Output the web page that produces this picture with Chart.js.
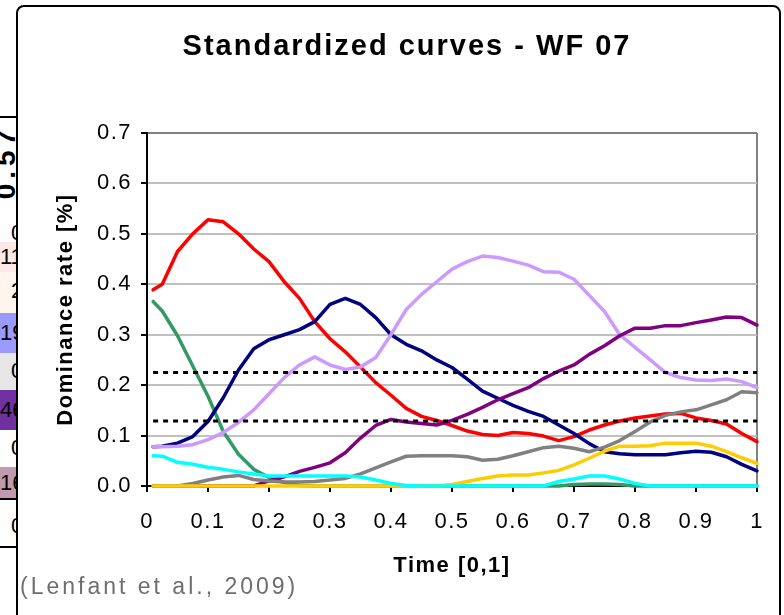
<!DOCTYPE html>
<html>
<head>
<meta charset="utf-8">
<script src="https://cdn.jsdelivr.net/npm/chart.js@4.4.1/dist/chart.umd.min.js"></script>
<style>
  html, body { margin: 0; padding: 0; background: #fff; width: 784px; height: 615px; overflow: hidden; }
  body { position: relative; font-family: "Liberation Sans", Arial, sans-serif; }
  #frame { position: absolute; left: 16px; top: 5px; width: 765px; height: 700px; border: 2px solid #000; border-radius: 8px; box-sizing: border-box; }
  #strip { position: absolute; left: 0; top: 0; width: 16px; height: 615px; overflow: hidden; font-size: 22px; color: #000; }
  #strip div { position: absolute; left: 0; width: 16px; white-space: nowrap; overflow: visible; }
  #strip .hl { height: 2px; background: #000; }
  #chart { position: absolute; left: 0; top: 0; }
  #cite { position: absolute; left: 20px; top: 573px; font-size: 23px; color: #6e6e6e; letter-spacing: 3px; white-space: nowrap; }
</style>
</head>
<body>
<div id="strip">
  <div class="hl" style="top:116px"></div>
  <div style="top:122px;height:82px;"><span style="position:absolute;left:-37px;top:26px;width:85px;text-align:center;transform:rotate(-90deg);font-weight:bold;font-size:28px;line-height:28px;letter-spacing:5px;">0.57</span></div>
  <div style="top:220px;height:24px;"><span style="position:absolute;left:11px;">0</span></div>
  <div style="top:242px;height:30px;background:#fde8e8;"><span style="position:absolute;left:0;top:2px;">11</span></div>
  <div style="top:272px;height:41px;background:#fef6ec;"><span style="position:absolute;left:11px;top:6px;">2</span></div>
  <div style="top:313px;height:40px;background:#9a9aff;"><span style="position:absolute;left:0;top:7px;">19</span></div>
  <div style="top:353px;height:37px;background:#e6e6e6;"><span style="position:absolute;left:11px;top:5px;">0</span></div>
  <div style="top:390px;height:40px;background:#7030a0;"><span style="position:absolute;left:0;top:7px;">46</span></div>
  <div style="top:430px;height:37px;"><span style="position:absolute;left:11px;top:5px;">0</span></div>
  <div style="top:467px;height:31px;background:#c29aae;"><span style="position:absolute;left:0;top:3px;">16</span></div>
  <div class="hl" style="top:498px"></div>
  <div style="top:513px;height:30px;"><span style="position:absolute;left:11px;">0</span></div>
  <div class="hl" style="top:546px"></div>
</div>
<div id="frame"></div>
<canvas id="chart" width="784" height="615"></canvas>
<div id="cite">(Lenfant et al., 2009)</div>

<script>
const chartTitle = 'Standardized curves - WF 07';
const xTitle = 'Time [0,1]';
const yTitle = 'Dominance rate [%]';

const times = [0.01, 0.025, 0.05, 0.075, 0.1, 0.125, 0.15, 0.175, 0.2, 0.225,
  0.25, 0.275, 0.3, 0.325, 0.35, 0.375, 0.4, 0.425, 0.45, 0.475,
  0.5, 0.525, 0.55, 0.575, 0.6, 0.625, 0.65, 0.675, 0.7, 0.725,
  0.75, 0.775, 0.8, 0.825, 0.85, 0.875, 0.9, 0.925, 0.95, 0.975, 1.0];

const red = [0.389, 0.40, 0.465, 0.50, 0.528, 0.524, 0.50, 0.47, 0.445, 0.405,
  0.372, 0.326, 0.292, 0.266, 0.236, 0.205, 0.18, 0.154, 0.138, 0.130,
  0.12, 0.109, 0.102, 0.100, 0.106, 0.104, 0.099, 0.090, 0.098, 0.111,
  0.121, 0.129, 0.135, 0.139, 0.143, 0.144, 0.135, 0.130, 0.123, 0.104, 0.088];

const green = [0.366, 0.347, 0.298, 0.238, 0.178, 0.108, 0.063, 0.033, 0.017, 0.007,
  0.001, 0, 0, 0, 0, 0, 0, 0, 0, 0,
  0, 0, 0, 0, 0, 0, 0, 0, 0.003, 0.004,
  0.004, 0.003, 0, 0, 0, 0, 0, 0, 0, 0, 0];

const navy = [0.078, 0.079, 0.085, 0.098, 0.128, 0.175, 0.23, 0.272, 0.29, 0.30,
  0.31, 0.326, 0.36, 0.372, 0.36, 0.334, 0.30, 0.281, 0.268, 0.25,
  0.235, 0.212, 0.188, 0.174, 0.16, 0.148, 0.138, 0.121, 0.104, 0.084,
  0.068, 0.064, 0.062, 0.062, 0.062, 0.066, 0.069, 0.067, 0.058, 0.043, 0.03];

const lavender = [0.078, 0.078, 0.079, 0.082, 0.092, 0.106, 0.126, 0.151, 0.183, 0.215,
  0.24, 0.256, 0.24, 0.231, 0.236, 0.255, 0.30, 0.35, 0.38, 0.405,
  0.43, 0.445, 0.456, 0.453, 0.446, 0.438, 0.425, 0.424, 0.41, 0.378,
  0.346, 0.30, 0.275, 0.25, 0.225, 0.215, 0.21, 0.209, 0.212, 0.207, 0.195];

const purple = [0, 0, 0, 0, 0, 0, 0, 0, 0.010, 0.018,
  0.029, 0.037, 0.046, 0.066, 0.095, 0.12, 0.132, 0.127, 0.124, 0.121,
  0.13, 0.142, 0.156, 0.171, 0.183, 0.195, 0.213, 0.228, 0.24, 0.261,
  0.278, 0.298, 0.313, 0.313, 0.318, 0.318, 0.324, 0.329, 0.335, 0.334, 0.319];

const gray = [0, 0, 0, 0.005, 0.012, 0.018, 0.021, 0.013, 0.01, 0.008,
  0.008, 0.009, 0.012, 0.015, 0.024, 0.036, 0.048, 0.059, 0.06, 0.06,
  0.06, 0.058, 0.051, 0.053, 0.06, 0.068, 0.076, 0.079, 0.075, 0.068,
  0.077, 0.09, 0.108, 0.127, 0.14, 0.147, 0.151, 0.161, 0.171, 0.187, 0.185];

const gold = [0, 0, 0, 0, 0, 0, 0, 0, 0, 0,
  0, 0, 0, 0, 0, 0, 0, 0, 0, 0,
  0.003, 0.009, 0.015, 0.02, 0.022, 0.022, 0.026, 0.031, 0.042, 0.055,
  0.069, 0.079, 0.079, 0.08, 0.085, 0.085, 0.085, 0.079, 0.068, 0.056, 0.045];

const cyan = [0.06, 0.059, 0.047, 0.043, 0.037, 0.033, 0.028, 0.024, 0.02, 0.02,
  0.02, 0.02, 0.02, 0.02, 0.018, 0.012, 0.005, 0.001, 0, 0,
  0, 0, 0, 0, 0, 0, 0, 0.009, 0.014, 0.02,
  0.02, 0.014, 0.005, 0, 0, 0, 0, 0, 0, 0, 0];

// the two dotted reference levels
const thresholds = [0.225, 0.129];

const xTicks = [0, 0.1, 0.2, 0.3, 0.4, 0.5, 0.6, 0.7, 0.8, 0.9, 1];

function points(values) {
  return times.map((t, i) => ({ x: t, y: values[i] }));
}

function curve(label, values, color) {
  return {
    label: label,
    data: points(values),
    borderColor: color,
    borderWidth: 3.5,
    pointRadius: 0,
    tension: 0,
    fill: false,
    borderJoinStyle: 'round',
    borderCapStyle: 'round',
    clip: false
  };
}

const dotted = thresholds.map((th, i) => ({
  label: 'level ' + (i + 1),
  data: [{ x: times[0], y: th }, { x: 1, y: th }],
  borderColor: '#000',
  borderWidth: 3,
  borderDash: [5, 5],
  pointRadius: 0,
  fill: false,
  clip: false
}));

const textLook = {
  id: 'textLook',
  beforeDraw(chart) {
    chart.ctx.letterSpacing = '1.5px';
  },
  afterDraw(chart) {
    const ctx = chart.ctx;
    ctx.save();
    ctx.letterSpacing = '2px';
    ctx.font = 'bold 29px "Liberation Sans", Arial, sans-serif';
    ctx.fillStyle = '#000';
    ctx.textAlign = 'center';
    ctx.textBaseline = 'middle';
    ctx.fillText(chartTitle, 407, 47);
    ctx.restore();
  }
};

const near = (a, b) => Math.abs(a - b) < 1e-6;

new Chart(document.getElementById('chart'), {
  type: 'line',
  data: {
    datasets: [
      ...dotted,
      curve('cyan', cyan, '#00ffff'),
      curve('gold', gold, '#ffcc00'),
      curve('gray', gray, '#808080'),
      curve('purple', purple, '#800080'),
      curve('lavender', lavender, '#cc99ff'),
      curve('navy', navy, '#000080'),
      curve('green', green, '#339966'),
      curve('red', red, '#ff0000')
    ]
  },
  options: {
    responsive: false,
    animation: false,
    layout: { padding: { top: 133, right: 27, bottom: 0, left: 0 } },
    plugins: {
      legend: { display: false },
      tooltip: { enabled: false },
      title: { display: false }
    },
    scales: {
      x: {
        type: 'linear',
        min: 0,
        max: 1,
        afterFit(scale) { scale.height = 129; },
        afterBuildTicks(scale) { scale.ticks = xTicks.map(v => ({ value: v })); },
        ticks: {
          color: '#000',
          font: { family: '"Liberation Sans", Arial, sans-serif', size: 22 },
          padding: 17,
          maxRotation: 0,
          autoSkip: false,
          callback: v => (near(v, 0) ? '0' : near(v, 1) ? '1' : v.toFixed(1))
        },
        grid: {
          color: c => (c.tick && near(c.tick.value, 1) ? '#808080' : 'rgba(0,0,0,0)'),
          lineWidth: 2,
          tickLength: 6,
          tickColor: '#000',
          tickWidth: 2
        },
        border: { color: '#000', width: 2 },
        title: {
          display: true,
          text: xTitle,
          color: '#000',
          font: { family: '"Liberation Sans", Arial, sans-serif', size: 22, weight: 'bold' },
          padding: { top: 0, bottom: 36 }
        }
      },
      y: {
        min: 0,
        max: 0.7,
        afterFit(scale) { scale.width = 147; },
        ticks: {
          stepSize: 0.1,
          color: '#000',
          font: { family: '"Liberation Sans", Arial, sans-serif', size: 22 },
          padding: 9,
          callback: v => v.toFixed(1)
        },
        grid: {
          color: c => (c.tick && near(c.tick.value, 0.7) ? '#808080' : '#c0c0c0'),
          lineWidth: 2,
          tickLength: 6,
          tickColor: '#000',
          tickWidth: 2
        },
        border: { color: '#000', width: 2 },
        title: {
          display: true,
          text: yTitle,
          color: '#000',
          font: { family: '"Liberation Sans", Arial, sans-serif', size: 22, weight: 'bold' },
          padding: { top: 53, bottom: 0 }
        }
      }
    }
  },
  plugins: [textLook]
});
</script>
</body>
</html>
